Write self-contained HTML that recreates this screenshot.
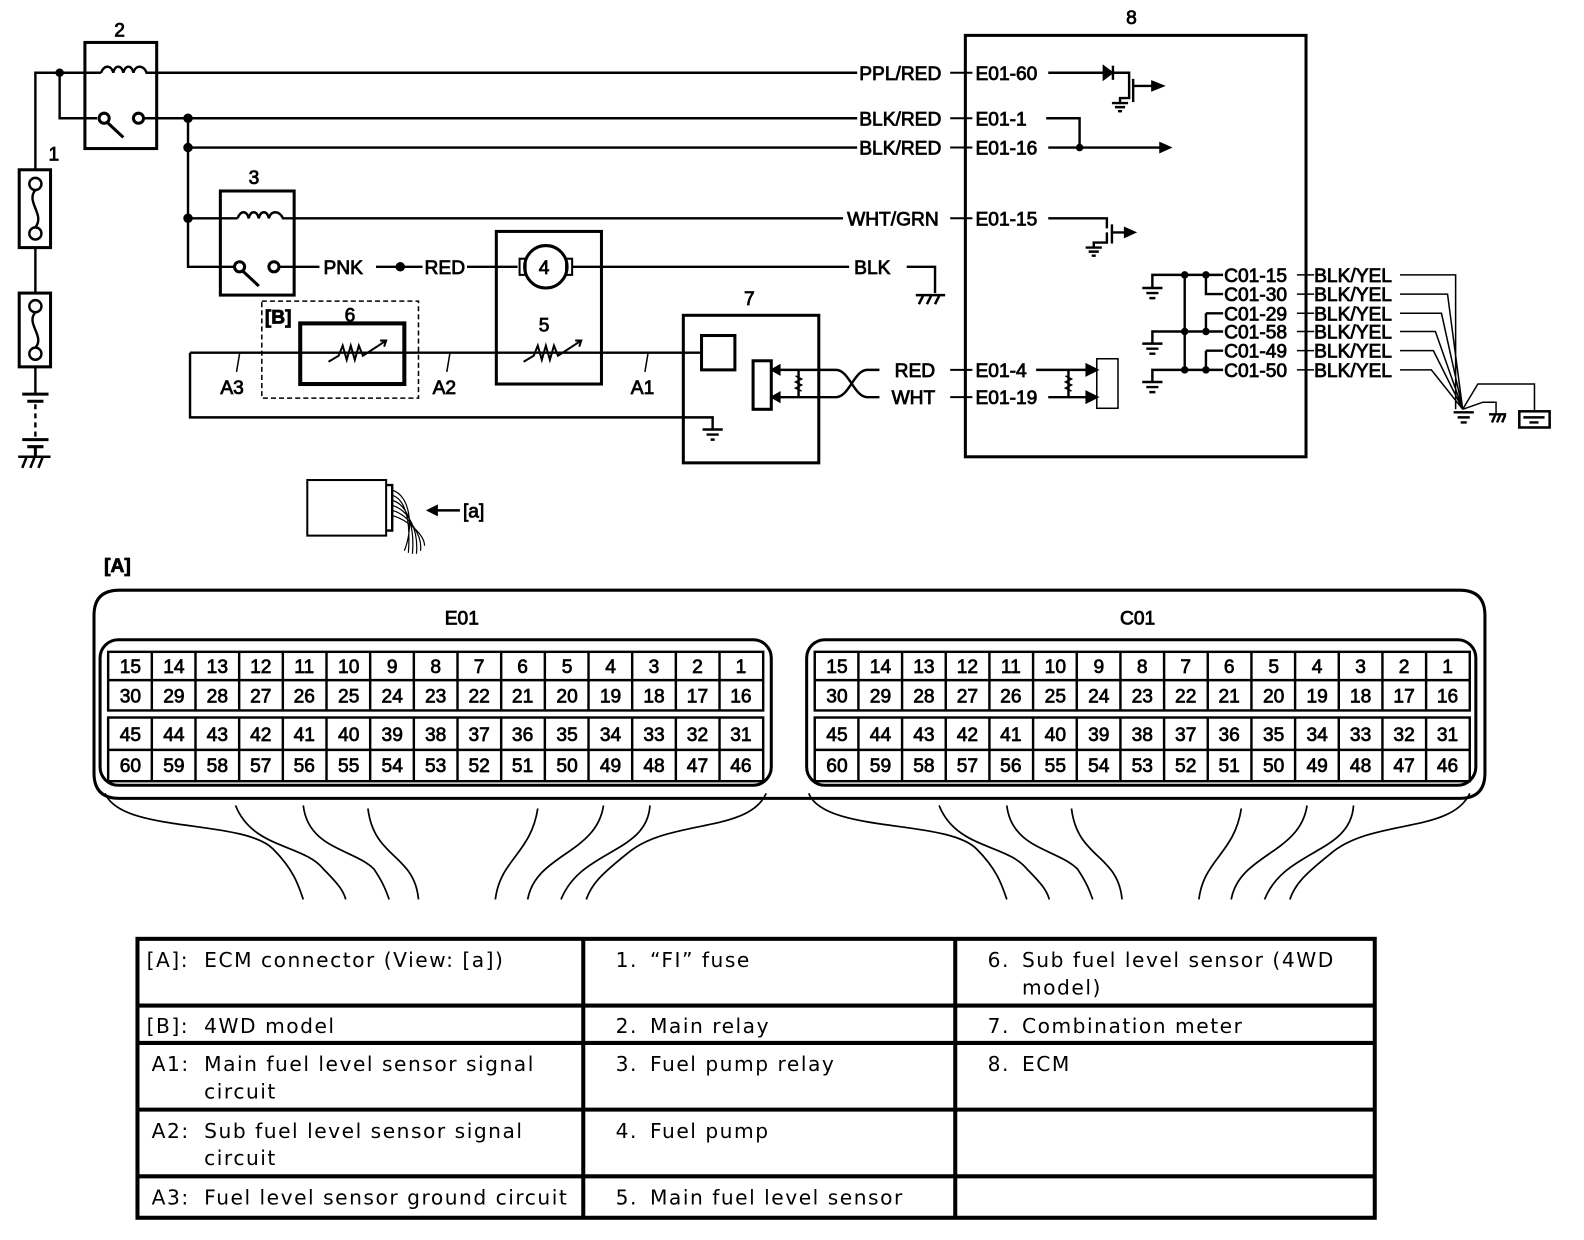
<!DOCTYPE html>
<html><head><meta charset="utf-8"><style>
html,body{margin:0;padding:0;background:#fff;}
svg{display:block;}
.t{font-family:"Liberation Sans",Arial,sans-serif;font-size:19px;fill:#000;stroke:#000;stroke-width:0.8;}
.n{font-family:"Liberation Sans",Arial,sans-serif;font-size:19px;fill:#000;text-anchor:middle;stroke:#000;stroke-width:0.7;}
.tb{font-family:"DejaVu Sans",sans-serif;font-size:20px;fill:#000;letter-spacing:1.5px;}
</style></head><body>
<svg width="1584" height="1240" viewBox="0 0 1567 1227" preserveAspectRatio="none" xmlns="http://www.w3.org/2000/svg">
<g fill="none" stroke="#000" stroke-width="2.4">
<path d="M35,168 V72 H100 M59,72 V117 H96"/>
<circle cx="59" cy="72" r="3" fill="#000"/>
<rect x="19" y="168" width="31" height="77" stroke-width="3"/>
<circle cx="35" cy="182" r="6"/><circle cx="35" cy="231" r="6"/>
<path d="M35,188 C25,200 45,212 35,225"/>
<path d="M35,245 V290"/>
<rect x="19" y="290" width="31" height="73" stroke-width="3"/>
<circle cx="35" cy="303" r="6"/><circle cx="35" cy="350" r="6"/>
<path d="M35,309 C25,320 45,333 35,344"/>
<path d="M35,363 V390"/>
<path d="M22,390 H48 M27,397 H43" stroke-width="3"/>
<path d="M35,400 V432" stroke-dasharray="5,4"/>
<path d="M22,435 H48 M27,442 H43 M35,442 V452" stroke-width="3"/>
<path d="M18,452 H50 M22,463 L26,453 M30,463 L34,453 M38,463 L42,453" stroke-width="2.5"/>
<rect x="84" y="42" width="71" height="105" stroke-width="3"/>
<path d="M100,72 C103,64 110,64 112,72 C114,64 120,64 122,72 C124,64 130,64 132,72 C134,64 142,64 145,72 H848"/>
<circle cx="103" cy="117" r="5" stroke-width="3"/><circle cx="137" cy="117" r="5" stroke-width="3"/>
<path d="M106,121 L122,136" stroke-width="3"/>
<path d="M142,117 H848 M186,117 V264 H232 M186,146 H848 M186,216 H235"/>
<circle cx="186" cy="117" r="3.5" fill="#000"/><circle cx="186" cy="146" r="3.5" fill="#000"/><circle cx="186" cy="216" r="3.5" fill="#000"/>
<rect x="218" y="189" width="73" height="103" stroke-width="3"/>
<path d="M235,216 C238,208 244,208 246,216 C248,208 254,208 256,216 C258,208 264,208 266,216 C268,208 276,208 280,216 H834"/>
<circle cx="237" cy="264" r="5" stroke-width="3"/><circle cx="271" cy="264" r="5" stroke-width="3"/>
<path d="M240,268 L256,283" stroke-width="3"/>
<path d="M276,264 H316 M372,264 H418 M462,264 H512"/>
<circle cx="396" cy="264" r="3.5" fill="#000"/>
<rect x="491" y="229" width="104" height="151" stroke-width="3"/>
<circle cx="540" cy="264" r="21" stroke-width="3"/>
<rect x="514" y="256" width="6" height="16" stroke-width="2"/><rect x="560" y="256" width="6" height="16" stroke-width="2"/>
<path d="M566,264 H840 M897,264 H925 V290"/>
<path d="M906,292 H935 M909,301 L913,293 M917,301 L921,293 M925,301 L929,293" stroke-width="2.5"/>
<path d="M188,349 H695 M188,349 V413 H705 V425"/>
<rect x="297" y="320" width="103" height="60" stroke-width="4"/>
<rect x="259" y="298" width="155" height="96" stroke-dasharray="5,3" stroke-width="1.5"/>
<path d="M325,358 L335,352 L339,342 L343,356 L347,342 L351,356 L355,342 L359,352 L382,337 M376,337 L382,337 L380,343" stroke-width="2"/>
<path d="M518,358 L528,352 L532,342 L536,356 L540,342 L544,356 L548,342 L552,352 L575,337 M569,337 L575,337 L573,343" stroke-width="2"/>
<path d="M237,350 L234,368 M445,350 L442,368 M641,350 L638,368" stroke-width="1.5"/>
<rect x="676" y="312" width="134" height="146" stroke-width="3"/>
<rect x="694" y="332" width="33" height="34" stroke-width="3"/>
<rect x="745" y="357" width="18" height="48" stroke-width="3"/>
<path d="M695,425 H715 M699,430 H711 M703,435 H707"/>
<path d="M790,366 H766 M790,393 H766 M790,366 V393"/>
<path d="M771,362 L764,366 L771,370Z M771,389 L764,393 L771,397Z" fill="#000"/>
<path d="M787,372 L793,375 L787,378 L793,381 L787,384 L793,387" stroke-width="1.5"/>
<path d="M790,366 H827 C840,366 845,393 858,393 H870 M790,393 H827 C840,393 845,366 858,366 H870" />
<rect x="955" y="35" width="337" height="417" stroke-width="3"/>
<path d="M940,72 H962 M940,117 H962 M940,146 H962 M940,216 H962 M940,366 H962 M940,393 H962" stroke-width="2"/>
<path d="M1037,72 H1100"/>
<path d="M1092,66 L1100,72 L1092,78Z" fill="#000"/><path d="M1101,65 V79"/>
<path d="M1100,72 H1117 V85 M1117,79 V97 H1108 V102 M1100,102 H1116 M1103,106 H1113 M1106,110 H1110 M1121,78 V101 M1121,85 H1140"/>
<path d="M1140,81 L1150,85 L1140,89Z" fill="#000"/>
<path d="M1035,117 H1068 V146 M1037,146 H1150"/><circle cx="1068" cy="146" r="2.5" fill="#000"/>
<path d="M1148,142 L1157,146 L1148,150Z" fill="#000"/>
<path d="M1037,216 H1095 V226 M1095,230 V240 H1082 V245 M1074,245 H1090 M1077,249 H1087 M1080,253 H1084 M1100,222 V241 M1100,230 H1113"/>
<path d="M1113,226 L1122,230 L1113,234Z" fill="#000"/>
<path d="M1025,366 H1078 M1037,393 H1078 M1057,366 V393"/>
<path d="M1075,361 L1085,366 L1075,371Z M1075,388 L1085,393 L1075,398Z" fill="#000"/>
<rect x="1085" y="355" width="21" height="49" stroke-width="1.5"/>
<path d="M1054,372 L1060,375 L1054,378 L1060,381 L1054,384 L1060,387" stroke-width="1.5"/>
<path d="M1140,285 V272 H1210 M1193,272 V291 H1210 M1193,310 H1210 M1193,310 V328 M1140,340 V328 H1210 M1193,347 H1210 M1193,347 V366 M1140,378 V366 H1210 M1172,272 V366"/>
<path d="M1130,285 H1150 M1134,290 H1146 M1137,295 H1143 M1130,340 H1150 M1134,345 H1146 M1137,350 H1143 M1130,378 H1150 M1134,383 H1146 M1137,388 H1143"/>
<circle cx="1172" cy="272" r="2.5" fill="#000"/><circle cx="1193" cy="272" r="2.5" fill="#000"/><circle cx="1172" cy="328" r="2.5" fill="#000"/><circle cx="1193" cy="328" r="2.5" fill="#000"/><circle cx="1172" cy="366" r="2.5" fill="#000"/><circle cx="1193" cy="366" r="2.5" fill="#000"/>
<path d="M1283,272 H1300 M1283,291 H1300 M1283,310 H1300 M1283,328 H1300 M1283,347 H1300 M1283,366 H1300" stroke-width="1.5"/>
<path d="M1385,272 H1440 V405 M1385,291 H1432 L1447,405 M1385,310 H1426 L1447,405 M1385,328 H1420 L1447,405 M1385,347 H1418 L1447,405 M1385,366 H1416 L1447,405 M1447,405 L1462,380 H1518 V408 M1447,405 L1467,398 H1480 V410" stroke-width="1.5"/>
<path d="M1438,408 H1458 M1442,413 H1454 M1445,418 H1451"/>
<path d="M1473,410 H1490 M1476,418 L1479,411 M1481,418 L1484,411 M1486,418 L1489,411"/>
<rect x="1503" y="407" width="30" height="16" stroke-width="2.5"/><path d="M1507,413 H1528 M1513,418 H1522"/>
<rect x="304" y="475" width="78" height="55" stroke-width="2"/>
<path d="M382,480 H388 V525 H382"/>
<path d="M388,485 C405,490 410,520 400,545 M388,490 C403,495 406,520 404,547 M388,495 C405,500 410,525 408,548 M388,500 C405,505 414,525 412,548 M388,505 C405,510 418,530 416,545 M388,510 C405,515 420,530 420,540" stroke-width="1.2"/>
<path d="M425,505 H455"/><path d="M432,501 L424,505 L432,509Z" fill="#000"/>
<path d="M118,584 H1444 Q1469,584 1469,609 V765 Q1469,790 1444,790 H118 Q93,790 93,765 V609 Q93,584 118,584Z" stroke-width="3"/>
<rect x="99" y="633" width="664" height="144" rx="18" stroke-width="3"/>
<rect x="798" y="633" width="662" height="144" rx="18" stroke-width="3"/>
<g id="grid">
<rect x="107" y="645" width="648" height="58"/>
<rect x="107" y="710" width="648" height="63"/>
<path d="M107,673 H755 M107,742 H755 M150.2,645 V703 M193.4,645 V703 M236.6,645 V703 M279.8,645 V703 M323,645 V703 M366.2,645 V703 M409.4,645 V703 M452.6,645 V703 M495.8,645 V703 M539,645 V703 M582.2,645 V703 M625.4,645 V703 M668.6,645 V703 M711.8,645 V703 M150.2,710 V773 M193.4,710 V773 M236.6,710 V773 M279.8,710 V773 M323,710 V773 M366.2,710 V773 M409.4,710 V773 M452.6,710 V773 M495.8,710 V773 M539,710 V773 M582.2,710 V773 M625.4,710 V773 M668.6,710 V773 M711.8,710 V773"/>
</g>
<use href="#grid" transform="translate(699,0)"/>
<g id="wires" stroke-width="1.7">
<path d="M104,785 C120,825 240,810 270,840 C290,860 295,875 300,890"/>
<path d="M233,797 C250,840 300,835 320,860 C335,875 340,882 342,890"/>
<path d="M300,797 C305,840 350,840 370,860 C380,875 382,882 385,890"/>
<path d="M364,800 C370,850 410,845 414,890"/>
<path d="M532,800 C525,845 495,850 490,890"/>
<path d="M597,797 C590,845 530,845 522,890"/>
<path d="M643,797 C640,845 575,840 555,890"/>
<path d="M758,785 C740,825 660,810 620,845 C595,865 585,875 580,890"/>
</g>
<use href="#wires" transform="translate(696,0)"/>
<rect x="136" y="929" width="1224" height="276" stroke-width="4"/>
<path d="M577,929 V1205 M945,929 V1205 M136,995 H1360 M136,1032 H1360 M136,1098 H1360 M136,1164 H1360" stroke-width="4"/>
</g>
<g class="t">
<text x="113" y="36">2</text><text x="48" y="159">1</text><text x="246" y="182">3</text>
<text x="320" y="271">PNK</text><text x="420" y="271">RED</text>
<text x="533" y="271">4</text><text x="533" y="328">5</text>
<text x="262" y="320" font-weight="bold">[B]</text><text x="341" y="318">6</text>
<text x="218" y="390">A3</text><text x="428" y="390">A2</text><text x="624" y="390">A1</text>
<text x="736" y="302">7</text><text x="1114" y="24">8</text>
<text x="850" y="79">PPL/RED</text><text x="850" y="124">BLK/RED</text><text x="850" y="153">BLK/RED</text>
<text x="838" y="223">WHT/GRN</text><text x="845" y="271">BLK</text>
<text x="885" y="373">RED</text><text x="882" y="400">WHT</text>
<text x="965" y="79">E01-60</text><text x="965" y="124">E01-1</text><text x="965" y="153">E01-16</text>
<text x="965" y="223">E01-15</text><text x="965" y="373">E01-4</text><text x="965" y="400">E01-19</text>
<text x="1211" y="279">C01-15</text><text x="1211" y="298">C01-30</text><text x="1211" y="317">C01-29</text>
<text x="1211" y="335">C01-58</text><text x="1211" y="354">C01-49</text><text x="1211" y="373">C01-50</text>
<text x="1300" y="279">BLK/YEL</text><text x="1300" y="298">BLK/YEL</text><text x="1300" y="317">BLK/YEL</text>
<text x="1300" y="335">BLK/YEL</text><text x="1300" y="354">BLK/YEL</text><text x="1300" y="373">BLK/YEL</text>
<text x="458" y="512">[a]</text><text x="103" y="566" font-weight="bold">[A]</text>
<text x="440" y="618">E01</text><text x="1108" y="618">C01</text>
</g>
<g class="n">
<text x="129" y="666">15</text><text x="172" y="666">14</text><text x="215" y="666">13</text><text x="258" y="666">12</text><text x="301" y="666">11</text><text x="345" y="666">10</text><text x="388" y="666">9</text><text x="431" y="666">8</text><text x="474" y="666">7</text><text x="517" y="666">6</text><text x="561" y="666">5</text><text x="604" y="666">4</text><text x="647" y="666">3</text><text x="690" y="666">2</text><text x="733" y="666">1</text>
<text x="129" y="695">30</text><text x="172" y="695">29</text><text x="215" y="695">28</text><text x="258" y="695">27</text><text x="301" y="695">26</text><text x="345" y="695">25</text><text x="388" y="695">24</text><text x="431" y="695">23</text><text x="474" y="695">22</text><text x="517" y="695">21</text><text x="561" y="695">20</text><text x="604" y="695">19</text><text x="647" y="695">18</text><text x="690" y="695">17</text><text x="733" y="695">16</text>
<text x="129" y="733">45</text><text x="172" y="733">44</text><text x="215" y="733">43</text><text x="258" y="733">42</text><text x="301" y="733">41</text><text x="345" y="733">40</text><text x="388" y="733">39</text><text x="431" y="733">38</text><text x="474" y="733">37</text><text x="517" y="733">36</text><text x="561" y="733">35</text><text x="604" y="733">34</text><text x="647" y="733">33</text><text x="690" y="733">32</text><text x="733" y="733">31</text>
<text x="129" y="764">60</text><text x="172" y="764">59</text><text x="215" y="764">58</text><text x="258" y="764">57</text><text x="301" y="764">56</text><text x="345" y="764">55</text><text x="388" y="764">54</text><text x="431" y="764">53</text><text x="474" y="764">52</text><text x="517" y="764">51</text><text x="561" y="764">50</text><text x="604" y="764">49</text><text x="647" y="764">48</text><text x="690" y="764">47</text><text x="733" y="764">46</text>
<text x="828" y="666">15</text><text x="871" y="666">14</text><text x="914" y="666">13</text><text x="957" y="666">12</text><text x="1000" y="666">11</text><text x="1044" y="666">10</text><text x="1087" y="666">9</text><text x="1130" y="666">8</text><text x="1173" y="666">7</text><text x="1216" y="666">6</text><text x="1260" y="666">5</text><text x="1303" y="666">4</text><text x="1346" y="666">3</text><text x="1389" y="666">2</text><text x="1432" y="666">1</text>
<text x="828" y="695">30</text><text x="871" y="695">29</text><text x="914" y="695">28</text><text x="957" y="695">27</text><text x="1000" y="695">26</text><text x="1044" y="695">25</text><text x="1087" y="695">24</text><text x="1130" y="695">23</text><text x="1173" y="695">22</text><text x="1216" y="695">21</text><text x="1260" y="695">20</text><text x="1303" y="695">19</text><text x="1346" y="695">18</text><text x="1389" y="695">17</text><text x="1432" y="695">16</text>
<text x="828" y="733">45</text><text x="871" y="733">44</text><text x="914" y="733">43</text><text x="957" y="733">42</text><text x="1000" y="733">41</text><text x="1044" y="733">40</text><text x="1087" y="733">39</text><text x="1130" y="733">38</text><text x="1173" y="733">37</text><text x="1216" y="733">36</text><text x="1260" y="733">35</text><text x="1303" y="733">34</text><text x="1346" y="733">33</text><text x="1389" y="733">32</text><text x="1432" y="733">31</text>
<text x="828" y="764">60</text><text x="871" y="764">59</text><text x="914" y="764">58</text><text x="957" y="764">57</text><text x="1000" y="764">56</text><text x="1044" y="764">55</text><text x="1087" y="764">54</text><text x="1130" y="764">53</text><text x="1173" y="764">52</text><text x="1216" y="764">51</text><text x="1260" y="764">50</text><text x="1303" y="764">49</text><text x="1346" y="764">48</text><text x="1389" y="764">47</text><text x="1432" y="764">46</text>
</g>
<g class="tb">
<text x="145" y="957">[A]:</text><text x="202" y="957">ECM connector (View: [a])</text>
<text x="145" y="1022">[B]:</text><text x="202" y="1022">4WD model</text>
<text x="150" y="1060">A1:</text><text x="202" y="1060">Main fuel level sensor signal</text><text x="202" y="1087">circuit</text>
<text x="150" y="1126">A2:</text><text x="202" y="1126">Sub fuel level sensor signal</text><text x="202" y="1153">circuit</text>
<text x="150" y="1192">A3:</text><text x="202" y="1192">Fuel level sensor ground circuit</text>
<text x="609" y="957">1.</text><text x="643" y="957">“FI” fuse</text>
<text x="609" y="1022">2.</text><text x="643" y="1022">Main relay</text>
<text x="609" y="1060">3.</text><text x="643" y="1060">Fuel pump relay</text>
<text x="609" y="1126">4.</text><text x="643" y="1126">Fuel pump</text>
<text x="609" y="1192">5.</text><text x="643" y="1192">Main fuel level sensor</text>
<text x="977" y="957">6.</text><text x="1011" y="957">Sub fuel level sensor (4WD</text><text x="1011" y="984">model)</text>
<text x="977" y="1022">7.</text><text x="1011" y="1022">Combination meter</text>
<text x="977" y="1060">8.</text><text x="1011" y="1060">ECM</text>
</g>
</svg>
</body></html>
